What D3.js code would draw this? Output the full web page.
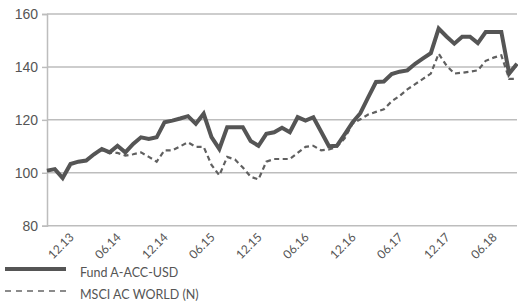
<!DOCTYPE html>
<html>
<head>
<meta charset="utf-8">
<script src="https://cdn.jsdelivr.net/npm/d3@7"></script>
<style>
  body { margin: 0; background: #fff; }
  svg { display: block; font-family: Lato, "Open Sans", sans-serif; }
</style>
</head>
<body>
<svg></svg>
<script>
const width = 518
const height = 306
const marge = {top: 14, left: 47, right: 1, bottom: 81}

// monthly labels, 10.13 .. 10.18
const months = []
for (let i = 0; i < 61; i++) {
  const m = (9 + i) % 12 + 1, y = 13 + Math.floor((9 + i) / 12)
  months.push(String(m).padStart(2, '0') + '.' + y)
}

const fund = [100.8, 101.4, 98, 103.3, 104.2, 104.6, 107, 109, 107.7, 110.2,
  107.7, 110.9, 113.4, 112.8, 113.4, 119.1, 119.7, 120.5, 121.4, 118.5,
  122.3, 113.5, 109, 117.2, 117.2, 117.2, 112, 110.2, 114.7, 115.3,
  117, 115.3, 121, 119.7, 121, 115.5, 110, 110.2, 114.5, 119,
  122.5, 128.5, 134.3, 134.5, 137.3, 138.2, 138.7, 141.2, 143.2, 145.2,
  154.5, 151.5, 148.8, 151.4, 151.4, 149, 153.2, 153.2, 153.2, 137.5, 141.2]

const msci = [100.8, 101.4, 98, 103.3, 104.2, 104.6, 107, 108.5, 107.5, 107.5,
  106.5, 107, 107.7, 106, 104.2, 108.5, 108.5, 110, 111.5, 109.8,
  109.8, 103, 99, 106, 105, 102, 98.5, 97.5, 104.2, 105.2,
  105.2, 105.2, 107.5, 109.8, 110.2, 108.5, 108.8, 109.8, 113, 118.5,
  120.2, 122, 123, 124, 127, 129, 131.5, 133.5, 135.5, 137.5,
  145, 140.5, 137.5, 137.8, 138.2, 138.7, 142.3, 143.5, 144.4, 135.5, 135.5]

const yTicks = [80, 100, 120, 140, 160]
const xTicks = ['12.13', '06.14', '12.14', '06.15', '12.15', '06.16', '12.16', '06.17', '12.17', '06.18']
const seriesNames = ['Fund A-ACC-USD', 'MSCI AC WORLD (N)']

const svg = d3.select('svg').attr('width', width).attr('height', height)

const x = d3.scalePoint().domain(months).range([marge.left, width - marge.right])
const y = d3.scaleLinear().domain([80, 160]).range([height - marge.bottom + 0.7, marge.top])

// 网格线
svg.append('g').selectAll('line').data(yTicks).enter().append('line')
  .attr('x1', marge.left).attr('x2', width - marge.right)
  .attr('y1', d => y(d)).attr('y2', d => y(d))
  .attr('stroke', '#bdbdbd').attr('stroke-width', 1.5)

// y 轴
const yAxis = svg.append('g').attr('transform', `translate(${marge.left},0)`)
  .call(d3.axisLeft(y).tickValues(yTicks).tickSize(5).tickPadding(4))
yAxis.select('.domain').attr('stroke', '#bdbdbd').attr('stroke-width', 1.5)
yAxis.selectAll('.tick line').attr('stroke', '#bdbdbd').attr('stroke-width', 1.5)
yAxis.selectAll('text').attr('fill', '#555').attr('font-size', 14).style('font-family', 'inherit')

// x 轴标签
svg.append('g').selectAll('text').data(xTicks).enter().append('text')
  .attr('transform', d => `translate(${x(d) + 12},238) rotate(-45)`)
  .attr('text-anchor', 'end')
  .attr('fill', '#555').attr('font-size', 12)
  .text(d => d)

const line = d3.line().x((d, i) => x(months[i])).y(d => y(d))

svg.append('path').datum(msci).attr('d', line)
  .attr('fill', 'none').attr('stroke', '#606060').attr('stroke-width', 2.2)
  .attr('stroke-dasharray', '5,3.5')

svg.append('path').datum(fund).attr('d', line)
  .attr('fill', 'none').attr('stroke', '#555').attr('stroke-width', 4)
  .attr('stroke-linejoin', 'miter')

// 图例
const legend = svg.append('g').selectAll('g').data(seriesNames).enter().append('g')
  .attr('transform', (d, i) => `translate(0,${269 + i * 22})`)
legend.append('line').attr('x1', 5).attr('x2', 66)
  .attr('stroke', (d, i) => i ? '#666' : '#555')
  .attr('stroke-width', (d, i) => i ? 1.5 : 4)
  .attr('stroke-dasharray', (d, i) => i ? '6,5' : null)
legend.append('text').attr('x', 80).attr('y', 8)
  .attr('fill', '#555').attr('font-size', 12.5)
  .text(d => d)
</script>
</body>
</html>
